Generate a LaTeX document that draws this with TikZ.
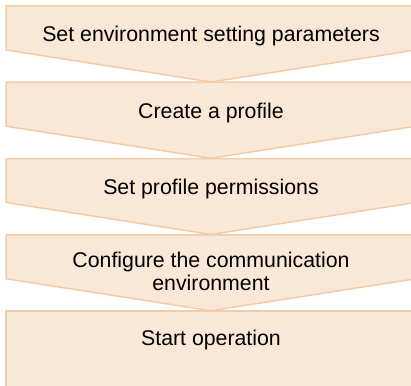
\documentclass[tikz,border=0pt]{standalone}
\usepackage{fontspec}
\setmainfont{Liberation Sans}
\definecolor{stepfill}{RGB}{249,231,215}
\definecolor{stepline}{RGB}{242,204,168}
\begin{document}
\begin{tikzpicture}[x=1pt, y=-1pt, every text node part/.style={align=center}]
        \tikzset{
          stepshape/.style={fill=stepfill, draw=stepline, line width=1.5pt},
          steptext/.style={font=\fontsize{21.3}{23}\selectfont, inner sep=0pt},
        }
        \useasboundingbox (0,0) rectangle (411,385);
        % chevron steps
        \foreach \t in {6,82.25,158.5,234.75}
          \draw[stepshape] (6,\t) -- (416,\t) -- (416,\t+44) -- (211,\t+76) -- (6,\t+44) -- cycle;
        % last step
        \draw[stepshape] (6,311) rectangle (416,400);
        %
        \node[steptext] (envparams) at (211,36) {Set environment setting parameters};
        \node[steptext] (profile) at (211,113) {Create a profile};
        \node[steptext] (perms) at (211,188.5) {Set profile permissions};
        \node[steptext] (commenv) at (211,271.5) {Configure the communication\\environment};
        \node[steptext] (startop) at (211,340) {Start operation};
    \end{tikzpicture}
\end{document}
